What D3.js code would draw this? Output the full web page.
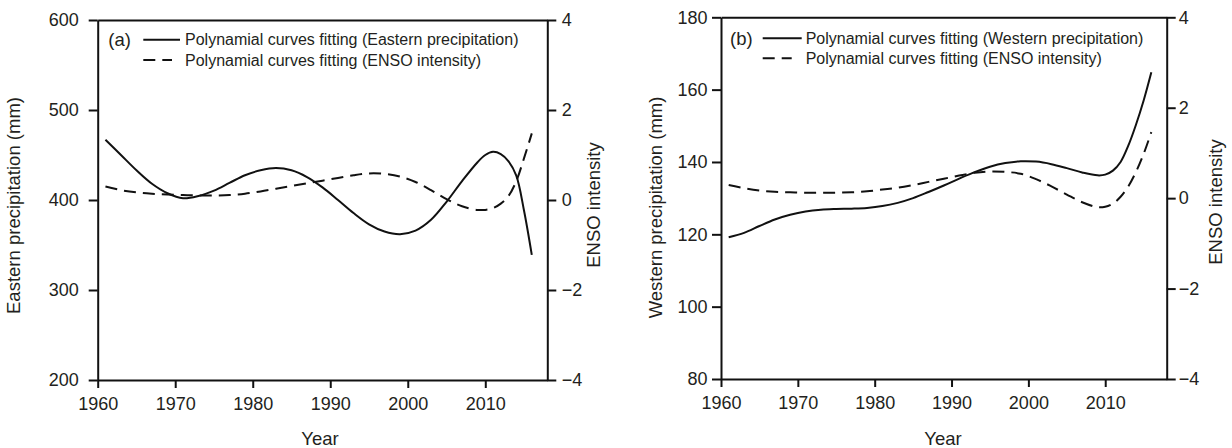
<!DOCTYPE html>
<html>
<head>
<meta charset="utf-8">
<script src="https://cdn.jsdelivr.net/npm/d3@7"></script>
<style>
  body { margin: 0; background: #fff; }
  svg { display: block; }
  text { font-family: "Liberation Sans", Arial, sans-serif; fill: #231f20; }
</style>
</head>
<body>
<svg id="chart" width="1232" height="448"></svg>
<script>
// Fitted polynomial curves, sampled by year
const eastYears = [1961,1963,1965,1967,1969,1971,1973,1975,1977,1979,1981,1983,1985,1987,1989,1991,1993,1995,1997,1999,2001,2003,2005,2007,2009,2010,2011,2012,2013,2014,2015,2016];
const eastPrecip = [467,450,433,418,407.5,402,404.5,410.5,419,427.5,433,435.5,433,425.5,414,400,385.5,373,365,362,366,378,398,421,442,450,453.5,451,443,427,388,339];

const ensoYearsA = [1961,1963,1965,1967,1969,1971,1973,1975,1977,1979,1981,1983,1985,1987,1989,1991,1993,1995,1997,1999,2001,2003,2005,2007,2009,2010,2011,2012,2013,2014,2015,2016];
const ensoA = [0.30,0.22,0.17,0.14,0.12,0.11,0.10,0.10,0.11,0.14,0.19,0.25,0.31,0.37,0.43,0.49,0.55,0.59,0.58,0.52,0.40,0.22,0.02,-0.14,-0.22,-0.22,-0.18,-0.08,0.09,0.42,0.93,1.48];

const westYears = [1961,1963,1965,1967,1969,1971,1973,1975,1977,1979,1981,1983,1985,1987,1989,1991,1993,1995,1997,1999,2001,2003,2005,2007,2009,2010,2011,2012,2013,2014,2015,2016];
const westPrecip = [119.2,120.4,122.3,124.1,125.4,126.3,126.8,127.0,127.1,127.3,127.8,128.7,130.0,131.7,133.5,135.4,137.2,138.7,139.7,140.2,140.1,139.4,138.3,137.1,136.3,136.5,137.6,140.0,144.5,150.3,157.0,164.8];

const ensoYearsB = [1961,1963,1965,1967,1969,1971,1973,1975,1977,1979,1981,1983,1985,1987,1989,1991,1993,1995,1997,1999,2001,2003,2005,2007,2009,2010,2011,2012,2013,2014,2015,2016];
const ensoB = [0.29,0.22,0.17,0.14,0.13,0.12,0.12,0.12,0.13,0.15,0.19,0.23,0.29,0.36,0.43,0.50,0.56,0.59,0.58,0.54,0.42,0.26,0.08,-0.09,-0.20,-0.19,-0.12,0.03,0.26,0.58,0.98,1.46];

// Axis ticks and labels
const yearTicks = [1960,1970,1980,1990,2000,2010];
const eastTicks = [200,300,400,500,600];
const westTicks = [80,100,120,140,160,180];
const ensoTicks = [-4,-2,0,2,4];
const legendTextsA = ["Polynamial curves fitting (Eastern precipitation)", "Polynamial curves fitting (ENSO intensity)"];
const legendTextsB = ["Polynamial curves fitting (Western precipitation)", "Polynamial curves fitting (ENSO intensity)"];

const panels = [
  {
    tag: "(a)", left: 97.7, right: 547.3, top: 20, bottom: 380,
    precipDomain: [200, 600], precipTicks: eastTicks,
    precipYears: eastYears, precip: eastPrecip,
    ensoYears: ensoYearsA, enso: ensoA,
    yTitle: "Eastern precipitation (mm)", yTitleX: 14, yTitleY: 205.5,
    rTitleX: 593.5, rTitleY: 205, xTitleX: 320,
    leftPad: 10, rightPad: 5.4,
    legend: legendTextsA, tagX: 108.3, sampleX0: 143.3, sampleX1: 180, dashX1: 172, textX: 185, row1: 39.7, row2: 60
  },
  {
    tag: "(b)", left: 721, right: 1166.7, top: 17.3, bottom: 379,
    precipDomain: [80, 180], precipTicks: westTicks,
    precipYears: westYears, precip: westPrecip,
    ensoYears: ensoYearsB, enso: ensoB,
    yTitle: "Western precipitation (mm)", yTitleX: 656, yTitleY: 207.5,
    rTitleX: 1216, rTitleY: 202, xTitleX: 943,
    leftPad: 4.4, rightPad: 3,
    legend: legendTextsB, tagX: 730, sampleX0: 762.7, sampleX1: 801.7, dashX1: 791.7, textX: 805.7, row1: 38.3, row2: 58.3
  }
];

const svg = d3.select("#chart");
const ink = "#111";
const lineW = 2;
const dashPattern = "12,7";

panels.forEach(p => {
  const x = d3.scaleLinear().domain([1960, 2018]).range([p.left, p.right]);
  const yP = d3.scaleLinear().domain(p.precipDomain).range([p.bottom, p.top]);
  const yE = d3.scaleLinear().domain([-4, 4]).range([p.bottom, p.top]);

  const g = svg.append("g");

  // Curves
  const precipLine = d3.line()
    .x((d, i) => x(p.precipYears[i]))
    .y(d => yP(d))
    .curve(d3.curveCatmullRom.alpha(0.5));
  const ensoLine = d3.line()
    .x((d, i) => x(p.ensoYears[i]))
    .y(d => yE(d))
    .curve(d3.curveCatmullRom.alpha(0.5));

  g.append("path").datum(p.precip).attr("d", precipLine)
    .attr("fill", "none").attr("stroke", ink).attr("stroke-width", lineW);
  g.append("path").datum(p.enso).attr("d", ensoLine)
    .attr("fill", "none").attr("stroke", ink).attr("stroke-width", lineW)
    .attr("stroke-dasharray", dashPattern);

  // Axes
  const styleAxis = sel => {
    sel.selectAll(".domain").attr("stroke", ink).attr("stroke-width", lineW);
    sel.selectAll(".tick line").attr("stroke", ink).attr("stroke-width", lineW);
    sel.selectAll(".tick text").attr("font-size", 18).attr("fill", "#231f20")
      .style("font-family", '"Liberation Sans", Arial, sans-serif');
  };

  g.append("g").attr("transform", `translate(0,${p.bottom})`)
    .call(d3.axisBottom(x).tickValues(yearTicks).tickFormat(d3.format("d")).tickSize(8).tickPadding(9).tickSizeOuter(0))
    .call(styleAxis);
  g.append("g").attr("transform", `translate(${p.left},0)`)
    .call(d3.axisLeft(yP).tickValues(p.precipTicks).tickFormat(d3.format("d")).tickSize(9).tickPadding(p.leftPad).tickSizeOuter(0))
    .call(styleAxis);
  g.append("g").attr("transform", `translate(${p.right},0)`)
    .call(d3.axisRight(yE).tickValues(ensoTicks).tickFormat(d3.format("d")).tickSize(9).tickPadding(p.rightPad).tickSizeOuter(0))
    .call(styleAxis);
  g.append("g").attr("transform", `translate(0,${p.top})`)
    .call(d3.axisTop(x).tickValues([]).tickSizeOuter(0))
    .call(styleAxis);

  // Axis titles
  g.append("text")
    .attr("transform", `translate(${p.yTitleX},${p.yTitleY}) rotate(-90)`)
    .attr("text-anchor", "middle").attr("dy", "0.35em").attr("font-size", 18.5)
    .text(p.yTitle);
  g.append("text")
    .attr("transform", `translate(${p.rTitleX},${p.rTitleY}) rotate(-90)`)
    .attr("text-anchor", "middle").attr("dy", "0.35em").attr("font-size", 18.5)
    .text("ENSO intensity");
  g.append("text")
    .attr("x", p.xTitleX).attr("y", 445)
    .attr("text-anchor", "middle").attr("font-size", 18.5)
    .text("Year");

  // Legend
  g.append("text").attr("x", p.tagX).attr("y", p.row1).attr("dy", "0.35em")
    .attr("font-size", 18.5).text(p.tag);
  g.append("line").attr("x1", p.sampleX0).attr("x2", p.sampleX1)
    .attr("y1", p.row1).attr("y2", p.row1)
    .attr("stroke", ink).attr("stroke-width", lineW);
  g.append("line").attr("x1", p.sampleX0).attr("x2", p.dashX1)
    .attr("y1", p.row2).attr("y2", p.row2)
    .attr("stroke", ink).attr("stroke-width", lineW).attr("stroke-dasharray", "12,7");
  g.append("text").attr("x", p.textX).attr("y", p.row1).attr("dy", "0.35em")
    .attr("font-size", 16).text(p.legend[0]);
  g.append("text").attr("x", p.textX).attr("y", p.row2).attr("dy", "0.35em")
    .attr("font-size", 16).text(p.legend[1]);
});
</script>
</body>
</html>
